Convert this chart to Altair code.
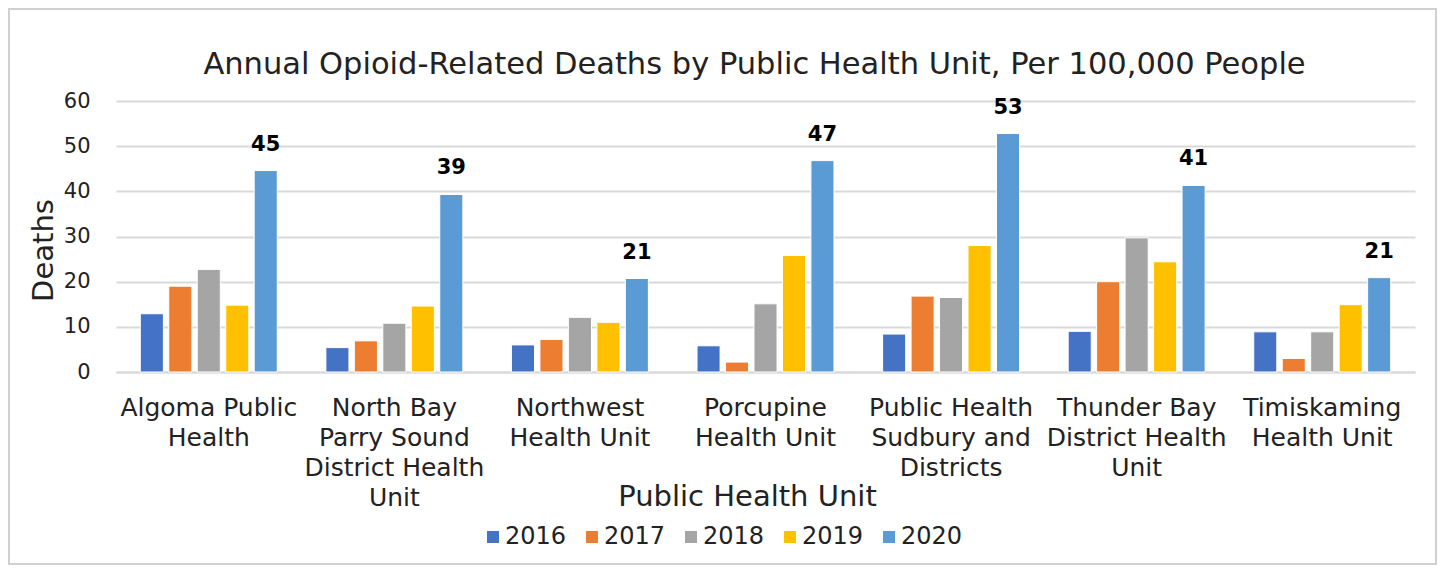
import altair as alt
import pandas as pd

units = [
    "Algoma Public Health",
    "North Bay Parry Sound District Health Unit",
    "Northwest Health Unit",
    "Porcupine Health Unit",
    "Public Health Sudbury and Districts",
    "Thunder Bay District Health Unit",
    "Timiskaming Health Unit",
]
unit_lines = [
    ["Algoma Public", "Health"],
    ["North Bay", "Parry Sound", "District Health", "Unit"],
    ["Northwest", "Health Unit"],
    ["Porcupine", "Health Unit"],
    ["Public Health", "Sudbury and", "Districts"],
    ["Thunder Bay", "District Health", "Unit"],
    ["Timiskaming", "Health Unit"],
]
years = ["2016", "2017", "2018", "2019", "2020"]
colors = ["#4472C4", "#ED7D31", "#A5A5A5", "#FFC000", "#5B9BD5"]

v2016 = [12.9, 5.4, 6.0, 5.8, 8.4, 9.0, 8.9]
v2017 = [19.0, 6.9, 7.2, 2.2, 16.8, 20.0, 3.0]
v2018 = [22.7, 10.8, 12.1, 15.1, 16.5, 29.7, 8.9]
v2019 = [14.8, 14.6, 11.0, 25.8, 28.0, 24.4, 14.9]
v2020 = [44.6, 39.3, 20.7, 46.8, 52.8, 41.3, 20.9]
series = [v2016, v2017, v2018, v2019, v2020]

rows = []
for y, vals in zip(years, series):
    for u, v in zip(units, vals):
        rows.append({"unit": u, "year": y, "deaths": v})
df = pd.DataFrame(rows)

# multi-line label expression
expr = "''"
for u, lines in reversed(list(zip(units, unit_lines))):
    arr = "[" + ",".join("'" + l + "'" for l in lines) + "]"
    expr = f"datum.label == '{u}' ? {arr} : ({expr})"

FONT = "DejaVu Sans"
TXT = "#222222"

x_enc = alt.X(
    "unit:N",
    sort=units,
    scale=alt.Scale(paddingInner=0.262, paddingOuter=0.131),
    axis=alt.Axis(
        title="Public Health Unit",
        labelAngle=0,
        labelExpr=expr,
        labelFont=FONT,
        labelFontSize=25,
        labelLineHeight=30,
        labelColor=TXT,
        labelPadding=23,
        ticks=False,
        tickSize=0,
        domain=True,
        domainColor="#D9D9D9",
        domainWidth=2,
        titleFont=FONT,
        titleFontSize=29,
        titleFontWeight="normal",
        titleColor=TXT,
        titleX=631,
        titleY=133,
        titleAlign="center",
        titleBaseline="alphabetic",
    ),
)
xo_enc = alt.XOffset("year:N", sort=years, scale=alt.Scale(paddingInner=0.19, paddingOuter=0))
y_enc = alt.Y(
    "deaths:Q",
    scale=alt.Scale(domain=[0, 60], nice=False),
    axis=alt.Axis(
        title="Deaths",
        values=[0, 10, 20, 30, 40, 50, 60],
        labelFont=FONT,
        labelFontSize=21,
        labelColor=TXT,
        labelPadding=26,
        ticks=False,
        tickSize=0,
        domain=False,
        grid=True,
        gridColor="#D9D9D9",
        gridWidth=2,
        titleFont=FONT,
        titleFontSize=29,
        titleFontWeight="normal",
        titleColor=TXT,
        titleAngle=-90,
        titleX=-64,
        titleY=149,
        titleAlign="center",
        titleBaseline="alphabetic",
    ),
)

bars = alt.Chart(df).mark_bar(stroke="white", strokeWidth=1).encode(
    x=x_enc,
    xOffset=xo_enc,
    y=y_enc,
    color=alt.Color(
        "year:N",
        sort=years,
        scale=alt.Scale(domain=years, range=colors),
        legend=alt.Legend(
            title=None,
            orient="none",
            legendX=365,
            legendY=424,
            direction="horizontal",
            symbolType="square",
            symbolSize=144,
            symbolStrokeWidth=0,
            labelFont=FONT,
            labelFontSize=24,
            labelColor=TXT,
            labelOffset=0,
            columnPadding=13,
        ),
    ),
)

labels = alt.Chart(df).transform_filter(alt.datum.year == "2020").mark_text(
    font=FONT, fontSize=21, fontWeight="bold", color="black", dy=-20, baseline="alphabetic"
).encode(
    x=alt.X("unit:N", sort=units),
    xOffset=alt.XOffset("year:N", sort=years),
    y="deaths:Q",
    text=alt.Text("deaths:Q", format=".0f"),
)

border = alt.Chart(pd.DataFrame({"b": [0]})).mark_rect(
    fill="transparent", stroke="#D0D0D0", strokeWidth=2
).encode(
    x=alt.value(-107), x2=alt.value(1320), y=alt.value(-92), y2=alt.value(463)
)

chart = alt.layer(border, bars, labels).properties(
    width=1299,
    height=271,
    autosize=alt.AutoSizeParams(type="none"),
    padding={"left": 108, "top": 93, "right": 22, "bottom": 193},
    title=alt.TitleParams(
        "Annual Opioid-Related Deaths by Public Health Unit, Per 100,000 People",
        font=FONT,
        fontSize=30.5,
        fontWeight="normal",
        color=TXT,
        anchor="middle",
        frame="group",
        dx=-11,
        baseline="alphabetic",
        offset=-96,
    ),
).configure_view(stroke=None)

chart.save("out.html", embed_options={"renderer": "svg", "actions": False})
